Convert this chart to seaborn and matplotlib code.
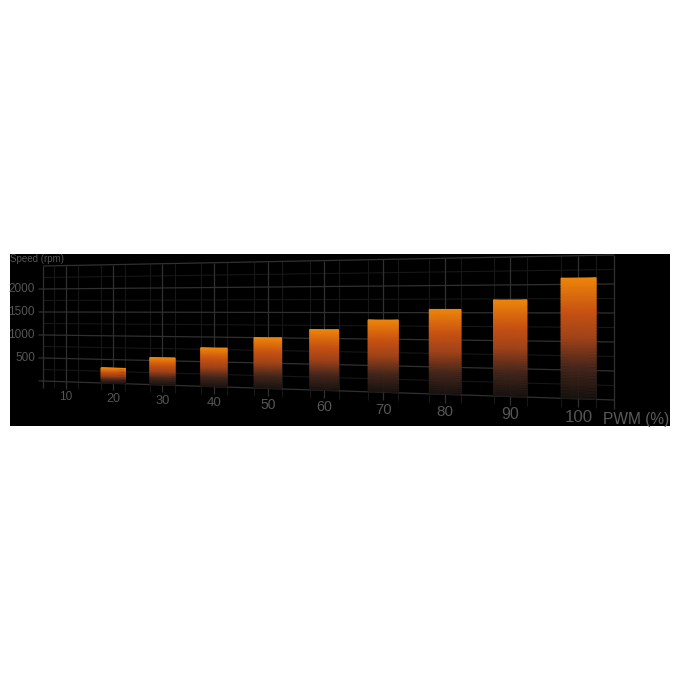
import numpy as np
import pandas as pd
import matplotlib
matplotlib.use("Agg")
import matplotlib.pyplot as plt
import seaborn as sns
from matplotlib.colors import LinearSegmentedColormap
from matplotlib.transforms import Affine2D, Transform

# values
pwm = [10, 20, 30, 40, 50, 60, 70, 80, 90, 100]
speed = [0, 320, 560, 780, 1000, 1170, 1360, 1560, 1730, 2110]
speed_ticks = [500, 1000, 1500, 2000]
pwm_sizes = [8.5, 9, 9.3, 9.6, 10, 10.3, 10.6, 11, 11.5, 12.2]


# perspective of the wall: data (pwm, rpm) -> reference pixels
class Perspective(Transform):
    input_dims = 2
    output_dims = 2
    is_separable = False
    has_inverse = True

    def __init__(self, h):
        super().__init__()
        self.h = h

    def transform_non_affine(self, values):
        values = np.asarray(values, dtype=float)
        pts = np.column_stack([values, np.ones(len(values))]) @ self.h.T
        return pts[:, :2] / pts[:, 2:3]

    def inverted(self):
        return Perspective(np.linalg.inv(self.h))


def homography(src, dst):
    rows, rhs = [], []
    for (x, y), (u, v) in zip(src, dst):
        rows.append([x, y, 1, 0, 0, 0, -u * x, -u * y])
        rows.append([0, 0, 0, x, y, 1, -v * x, -v * y])
        rhs += [u, v]
    return np.append(np.linalg.solve(rows, rhs), 1).reshape(3, 3)


sns.set_style("dark")
plt.rcParams["font.family"] = ["Liberation Sans", "DejaVu Sans"]

W, H = 680, 680
fig = plt.figure(figsize=(6.8, 6.8), dpi=100, facecolor="white")
ax = fig.add_axes([10 / W, 1 - 426 / H, 660 / W, 172 / H])
ax.set_facecolor("black")

persp = Perspective(homography(
    [(5, 0), (105, 0), (5, 2500), (105, 2500)],
    [(43, 381), (614, 400), (43, 266), (614, 255)],
))
ax.transData = persp + Affine2D().scale(1 / W, -1 / H).translate(0, 1) + fig.transFigure

# grid under the bars
major = "#303030"
minor = "#171717"
ax.hlines(np.arange(250, 2500, 500), 5, 105, color=minor, lw=0.8, zorder=1)
ax.vlines(np.arange(7.5, 105, 5), -150, 2500, color=minor, lw=0.8, zorder=1)
ax.hlines([0, 500, 1000, 1500, 2000], 4, 105, color=major, lw=0.9, zorder=1.1)
ax.hlines([2500], 5, 105, color=major, lw=0.9, zorder=1.1)
ax.vlines(np.arange(10, 101, 10), -150, 2500, color=major, lw=0.9, zorder=1.1)
ax.vlines([5, 105], -150, 2500, color=major, lw=0.9, zorder=1.1)

df = pd.DataFrame({"pwm": pwm, "speed": speed})
sns.barplot(data=df, x="pwm", y="speed", native_scale=True, width=0.5,
            errorbar=None, color="#e8820e", ax=ax, zorder=2)

# orange at the top, fading out into the background at the floor
fade = LinearSegmentedColormap.from_list("fade", [
    (0.0, (0.10, 0.08, 0.07, 0.70)),
    (0.25, (0.27, 0.15, 0.11, 0.90)),
    (0.50, (0.62, 0.26, 0.10, 1.0)),
    (0.72, (0.78, 0.32, 0.07, 1.0)),
    (1.0, (0.93, 0.52, 0.04, 1.0)),
])
for bar in ax.patches:
    bar.set_facecolor("none")
    bar.set_edgecolor("none")
    x0, w, h = bar.get_x(), bar.get_width(), bar.get_height()
    if h <= 0:
        continue
    ys = np.linspace(0, h, 41)
    frac = np.tile(ys / h, (2, 1)).T
    ax.pcolormesh([x0, x0 + w], ys, frac, cmap=fade, vmin=0, vmax=1,
                  shading="gouraud", zorder=3)

label_col = "#555555"
for p, size in zip(pwm, pwm_sizes):
    ax.text(p, -325, str(p), ha="center", va="center", fontsize=size, color=label_col)
for s in speed_ticks:
    ax.text(3.2, s, str(s), ha="right", va="center", fontsize=8.5, color=label_col)
ax.text(0.0, 0.97, "Speed (rpm)", transform=ax.transAxes, ha="left", va="center",
        fontsize=7, color=label_col)
ax.text(0.9995, 0.035, "PWM (%)", transform=ax.transAxes, ha="right", va="center",
        fontsize=11.2, color="#5c5c5c")

ax.set(xticks=[], yticks=[], xlabel="", ylabel="")
ax.grid(False)
sns.despine(ax=ax, left=True, bottom=True)

fig.savefig("out.png", dpi=100, facecolor="white")
